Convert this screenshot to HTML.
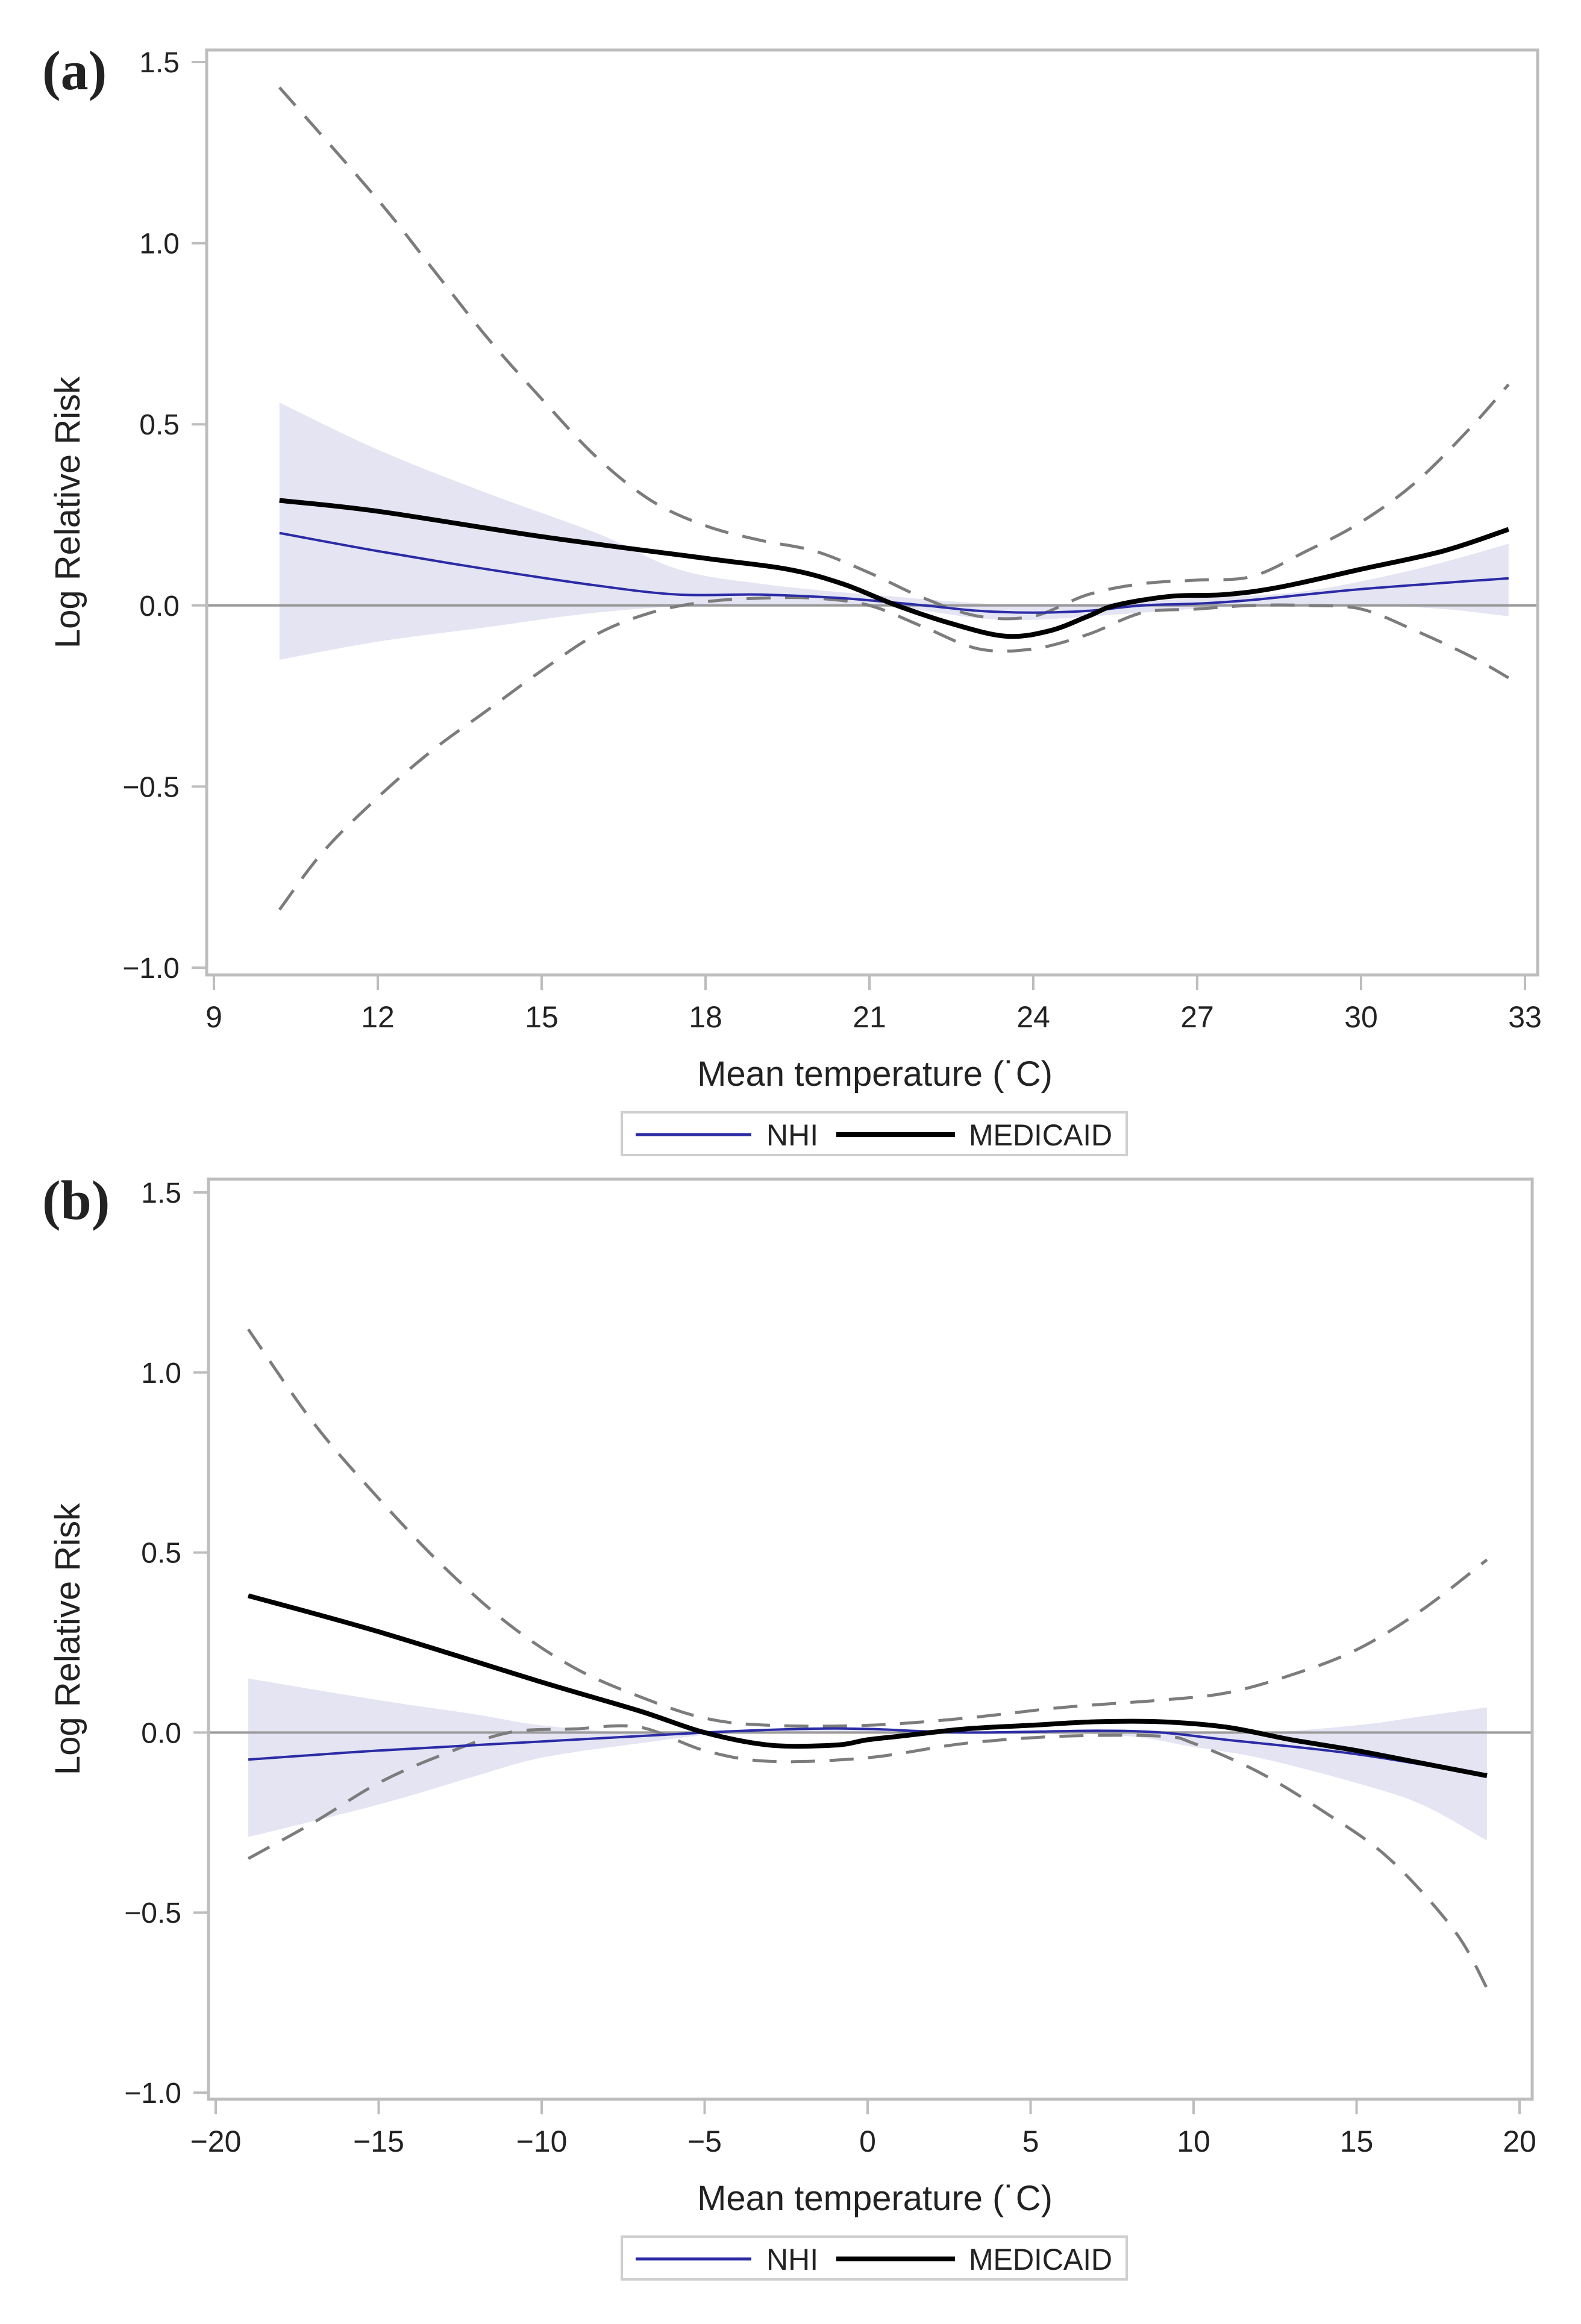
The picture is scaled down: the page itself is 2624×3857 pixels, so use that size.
<!DOCTYPE html>
<html><head><meta charset="utf-8">
<style>
html,body{margin:0;padding:0;background:#fff;}
svg{display:block;}
text{font-family:"Liberation Sans","Noto Sans CJK KR",sans-serif;fill:#222;}
</style></head>
<body>
<svg id="fig" width="2624" height="3857" viewBox="0 0 2624 3857" xmlns="http://www.w3.org/2000/svg">
<rect width="2624" height="3857" fill="#fff"/>
<g id="pa"></g>
<g id="pb"></g>
</svg>
<script>
// ---- Panel (a) data ----
const aYTicks = [1.5, 1.0, 0.5, 0.0, -0.5, -1.0];
const aXTicks = [9, 12, 15, 18, 21, 24, 27, 30, 33];
const aMedX = [10.2,12,15,18,19.5,20.5,21.5,22.5,23.5,24.3,25,25.5,26.5,27.5,28.5,30,31.5,32.7];
const aMedY = [0.29,0.26,0.19,0.13,0.10,0.06,0.0,-0.05,-0.085,-0.07,-0.03,0.0,0.025,0.03,0.05,0.10,0.15,0.21];
const aNhiX = [10.2,12,14,16,17.5,19,20.5,22,23,24,25,26,27,28,30,32.7];
const aNhiY = [0.20,0.15,0.10,0.055,0.03,0.03,0.02,0.0,-0.015,-0.02,-0.015,0.0,0.005,0.015,0.045,0.075];
const aBandUpX = [10.2,12,14,16,17.5,19,21,24,27,29,31,32.7];
const aBandUpY = [0.56,0.43,0.31,0.2,0.1,0.06,0.03,0.0,0.02,0.04,0.1,0.17];
const aBandLoX = [10.2,12,14,16,18,21,23,24,26,28,30,31.5,32.7];
const aBandLoY = [-0.15,-0.1,-0.06,-0.02,0.0,0.0,-0.035,-0.04,-0.02,0.0,0.0,-0.01,-0.03];
const aCiUpX = [10.2,12,13,14,15,16,17,18,19,20,21,22,23,24,25,26,27,28,29,30,31,32,32.7];
const aCiUpY = [1.43,1.12,0.93,0.74,0.57,0.41,0.29,0.22,0.18,0.15,0.09,0.02,-0.03,-0.03,0.03,0.06,0.07,0.08,0.15,0.23,0.34,0.49,0.61];
const aCiLoX = [10.2,11,12,13,14,15,16,17,18,19,20,21,22,23,24,25,26,27,28,29,30,31,32,32.7];
const aCiLoY = [-0.84,-0.68,-0.53,-0.4,-0.29,-0.18,-0.08,-0.02,0.01,0.02,0.02,0.0,-0.06,-0.12,-0.12,-0.08,-0.02,-0.01,0.0,0.0,-0.01,-0.07,-0.14,-0.20];

// ---- Panel (b) data ----
const bYTicks = [1.5, 1.0, 0.5, 0.0, -0.5, -1.0];
const bXTicks = [-20, -15, -10, -5, 0, 5, 10, 15, 20];
const bMedX = [-19,-15,-10,-7,-5,-3,-1,0,1,3,5,7,9,11,13,15,17,19];
const bMedY = [0.38,0.28,0.14,0.06,0.0,-0.035,-0.035,-0.02,-0.01,0.01,0.02,0.03,0.03,0.015,-0.02,-0.05,-0.085,-0.12];
const bNhiX = [-19,-15,-10,-5,-2,0,3,7,9,11,15,19];
const bNhiY = [-0.075,-0.05,-0.025,0.0,0.01,0.01,0.0,0.005,0.0,-0.02,-0.06,-0.12];
const bBandUpX = [-19,-15,-12,-10,-7,-3,0,5,9,12,15,17,19];
const bBandUpY = [0.15,0.09,0.05,0.02,0.0,0.01,0.01,0.0,0.005,0.0,0.02,0.045,0.07];
const bBandLoX = [-19,-15,-12,-10,-7,-4,0,5,8,10,12,15,17,19];
const bBandLoY = [-0.29,-0.2,-0.12,-0.07,-0.03,0.0,0.0,0.0,-0.01,-0.04,-0.07,-0.14,-0.2,-0.3];
const bCiUpX = [-19,-17,-15,-13,-11,-9,-7,-5,-3,0,3,6,9,11,13,15,17,19];
const bCiUpY = [1.12,0.86,0.65,0.46,0.3,0.18,0.1,0.04,0.02,0.02,0.04,0.07,0.09,0.11,0.16,0.23,0.34,0.48];
const bCiLoX = [-19,-17,-15,-13,-11,-9,-7,-5,-3,0,3,6,9,10,12,14,16,18,19];
const bCiLoY = [-0.35,-0.25,-0.14,-0.06,0.0,0.01,0.015,-0.05,-0.08,-0.07,-0.03,-0.01,-0.01,-0.03,-0.11,-0.22,-0.35,-0.55,-0.71];

const NS = "http://www.w3.org/2000/svg";
function mk(parent, tag, attrs, txt){
  const e = document.createElementNS(NS, tag);
  for (const k in attrs) e.setAttribute(k, attrs[k]);
  if (txt !== undefined) e.textContent = txt;
  parent.appendChild(e);
  return e;
}
// Catmull-Rom smooth path through points
function smooth(P, move){
  let d = (move ? "M" : "L") + P[0][0].toFixed(1) + "," + P[0][1].toFixed(1);
  for (let i = 0; i < P.length - 1; i++){
    const p0 = P[Math.max(0, i-1)], p1 = P[i], p2 = P[i+1], p3 = P[Math.min(P.length-1, i+2)];
    const c1x = p1[0] + (p2[0]-p0[0])/6, c1y = p1[1] + (p2[1]-p0[1])/6;
    const c2x = p2[0] - (p3[0]-p1[0])/6, c2y = p2[1] - (p3[1]-p1[1])/6;
    d += " C" + c1x.toFixed(1) + "," + c1y.toFixed(1) + " " + c2x.toFixed(1) + "," + c2y.toFixed(1) + " " + p2[0].toFixed(1) + "," + p2[1].toFixed(1);
  }
  return d;
}
function toP(xs, ys, sx, sy){ return xs.map((x,i)=>[sx(x), sy(ys[i])]); }

function drawPanel(g, cfg){
  const sx = v => cfg.x0px + (v - cfg.x0v) * (cfg.x1px - cfg.x0px) / (cfg.x1v - cfg.x0v);
  const sy = v => cfg.y0px + (v - cfg.y0v) * (cfg.y1px - cfg.y0px) / (cfg.y1v - cfg.y0v);
  const F = cfg.frame;
  // band
  const up = toP(cfg.bux, cfg.buy, sx, sy);
  const lo = toP(cfg.blx, cfg.bly, sx, sy).reverse();
  let e = mk(g, "path", {d: smooth(up, true) + " " + smooth(lo, false) + " Z", fill: "#e4e4f3"});
  
  
  // reference line
  e = mk(g, "line", {x1: F.l, x2: F.r, y1: sy(0), y2: sy(0), stroke: "#9a9a9a", "stroke-width": 4});
  
  
  // dashed CI
  e = mk(g, "path", {d: smooth(toP(cfg.cux, cfg.cuy, sx, sy), true), fill: "none", stroke: "#7c7c7c", "stroke-width": 5, "stroke-dasharray": "40,24"});
  
  
  e = mk(g, "path", {d: smooth(toP(cfg.clx, cfg.cly, sx, sy), true), fill: "none", stroke: "#7c7c7c", "stroke-width": 5, "stroke-dasharray": "40,24"});
  
  
  // NHI
  e = mk(g, "path", {d: smooth(toP(cfg.nx, cfg.ny, sx, sy), true), fill: "none", stroke: "#2b2ba6", "stroke-width": 4});
  
  
  // Medicaid
  e = mk(g, "path", {d: smooth(toP(cfg.mx, cfg.my, sx, sy), true), fill: "none", stroke: "#000", "stroke-width": 8});
  
  
  // frame
  e = mk(g, "rect", {x: F.l, y: F.t, width: F.r - F.l, height: F.b - F.t, fill: "none", stroke: "#bdbdbd", "stroke-width": 5});
  
  
  // y ticks
  cfg.yt.forEach(v => {
    const y = sy(v);
    let t = mk(g, "line", {x1: F.l - 25, x2: F.l, y1: y, y2: y, stroke: "#bdbdbd", "stroke-width": 4});
    
    
    const lab = (v < 0 ? "\u2212" : "") + Math.abs(v).toFixed(1);
    t = mk(g, "text", {x: F.l - 45, y: y + 17, "font-size": 48, "text-anchor": "end"}, lab);
    
    
  });
  // x ticks
  cfg.xt.forEach(v => {
    const x = sx(v);
    let t = mk(g, "line", {x1: x, x2: x, y1: F.b, y2: F.b + 25, stroke: "#bdbdbd", "stroke-width": 4});
    
    
    const lab = (v < 0 ? "\u2212" : "") + Math.abs(v);
    t = mk(g, "text", {x: x, y: F.b + 87, "font-size": 50, "text-anchor": "middle"}, lab);
    
    
  });
  // axis titles
  e = mk(g, "text", {x: 1452, y: F.b + 184, "font-size": 58, "text-anchor": "middle"}, "Mean temperature (\u02D9C)");
  
  
  const cy = (F.t + F.b) / 2;
  e = mk(g, "text", {x: 132, y: cy, "font-size": 58, "text-anchor": "middle", transform: "rotate(-90 132 " + cy + ")"}, "Log Relative Risk");
  
  
  // panel label
  e = mk(g, "text", {x: 70, y: cfg.labY, "font-size": 92, "font-weight": "bold", style: "font-family:'Liberation Serif',serif", fill: "#000"}, cfg.label);
  
  
  // legend
  const L = cfg.leg;
  const lg = mk(g, "g", {});
  
  
  e = mk(lg, "rect", {x: 1032, y: L, width: 838, height: 71, fill: "#fff", stroke: "#cfcfcf", "stroke-width": 4});
  
  
  e = mk(lg, "line", {x1: 1055, x2: 1247, y1: L + 37, y2: L + 37, stroke: "#2b2ba6", "stroke-width": 5});
  
  
  e = mk(lg, "text", {x: 1272, y: L + 55, "font-size": 50}, "NHI");
  
  
  e = mk(lg, "line", {x1: 1388, x2: 1585, y1: L + 37, y2: L + 37, stroke: "#000", "stroke-width": 8});
  
  
  e = mk(lg, "text", {x: 1608, y: L + 55, "font-size": 50, textLength: 238, lengthAdjust: "spacingAndGlyphs"}, "MEDICAID");
  
  
}

drawPanel(document.getElementById("pa"), {
  x0v: 9, x1v: 33, x0px: 355, x1px: 2531,
  y0v: 1.5, y1v: -1.0, y0px: 103, y1px: 1606,
  frame: {l: 343, r: 2552, t: 83, b: 1618},
  yt: aYTicks, xt: aXTicks,
  mx: aMedX, my: aMedY, nx: aNhiX, ny: aNhiY,
  bux: aBandUpX, buy: aBandUpY, blx: aBandLoX, bly: aBandLoY,
  cux: aCiUpX, cuy: aCiUpY, clx: aCiLoX, cly: aCiLoY,
  label: "(a)", labY: 148, leg: 1846
});
drawPanel(document.getElementById("pb"), {
  x0v: -20, x1v: 20, x0px: 358, x1px: 2522,
  y0v: 1.5, y1v: -1.0, y0px: 1979, y1px: 3473,
  frame: {l: 346, r: 2543, t: 1957, b: 3484},
  yt: bYTicks, xt: bXTicks,
  mx: bMedX, my: bMedY, nx: bNhiX, ny: bNhiY,
  bux: bBandUpX, buy: bBandUpY, blx: bBandLoX, bly: bBandLoY,
  cux: bCiUpX, cuy: bCiUpY, clx: bCiLoX, cly: bCiLoY,
  label: "(b)", labY: 2023, leg: 3712
});
</script>
</body></html>
